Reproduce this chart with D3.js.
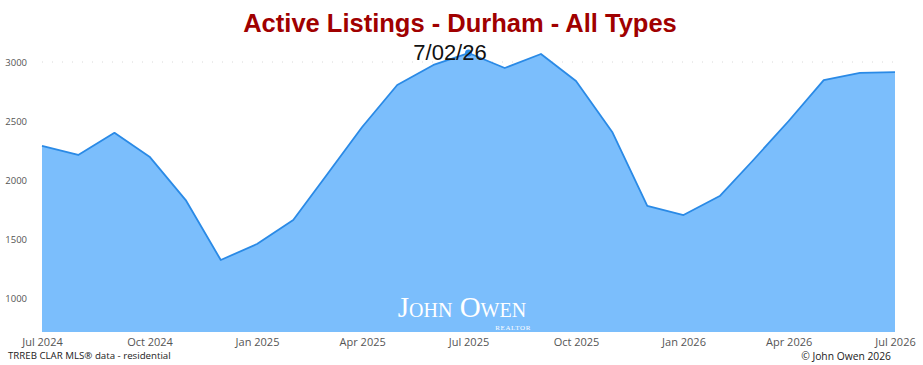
<!DOCTYPE html>
<html>
<head>
<meta charset="utf-8">
<script src="https://cdn.jsdelivr.net/npm/d3@7"></script>
<style>
  body { margin: 0; background: #fff; }
  svg { display: block; }
</style>
</head>
<body>
<div id="chart"></div>
<script>
// monthly active listings, Jul 2024 .. Jul 2026
const months = ["2024-07","2024-08","2024-09","2024-10","2024-11","2024-12",
  "2025-01","2025-02","2025-03","2025-04","2025-05","2025-06",
  "2025-07","2025-08","2025-09","2025-10","2025-11","2025-12",
  "2026-01","2026-02","2026-03","2026-04","2026-05","2026-06","2026-07"];
const listings = [2290, 2212, 2400, 2198, 1830, 1322,
  1458, 1661, 2034, 2449, 2805, 2975,
  3076, 2949, 3068, 2839, 2407, 1780,
  1703, 1864, 2161, 2500, 2847, 2907, 2915];
const yTicks = [1000, 1500, 2000, 2500, 3000];
const xTicks = ["2024-07","2024-10","2025-01","2025-04","2025-07","2025-10","2026-01","2026-04","2026-07"];
const highlight = "2025-07";

const width = 923, height = 365;
const parse = d3.timeParse("%Y-%m");
const data = months.map((m, i) => ({ date: parse(m), value: listings[i] }));

const svg = d3.select("#chart").append("svg")
  .attr("width", width)
  .attr("height", height);

const x = d3.scaleTime()
  .domain(d3.extent(data, d => d.date))
  .range([42, 895]);

const y = d3.scaleLinear()
  .domain([712, 3000])
  .range([332, 62]);

// faint dotted line at the top tick
svg.append("line")
  .attr("x1", 42).attr("x2", 895)
  .attr("y1", y(3000)).attr("y2", y(3000))
  .attr("stroke", "#d8d8d8")
  .attr("stroke-dasharray", "1,9");

// area + line
const area = d3.area()
  .x(d => x(d.date))
  .y0(y(712))
  .y1(d => y(d.value));

const line = d3.line()
  .x(d => x(d.date))
  .y(d => y(d.value));

svg.append("path")
  .datum(data)
  .attr("fill", "#7bbefc")
  .attr("d", area);

svg.append("path")
  .datum(data)
  .attr("fill", "none")
  .attr("stroke", "#2a8ae6")
  .attr("stroke-width", 1.8)
  .attr("stroke-linejoin", "round")
  .attr("d", line);

// watermark
const wm = svg.append("g").attr("fill", "#fff").attr("font-family", "Liberation Serif, DejaVu Serif, serif");
wm.append("text")
  .attr("x", 462).attr("y", 317)
  .attr("text-anchor", "middle")
  .attr("font-size", 29)
  .style("font-variant", "small-caps")
  .text("John Owen");
wm.append("text")
  .attr("x", 531).attr("y", 330)
  .attr("text-anchor", "end")
  .attr("font-size", 7)
  .attr("letter-spacing", 0.6)
  .text("REALTOR");

// y axis labels
svg.append("g")
  .attr("transform", "translate(27,0)")
  .call(d3.axisLeft(y).tickValues(yTicks).tickSize(0).tickPadding(0).tickFormat(d3.format("d")))
  .call(g => g.select(".domain").remove())
  .call(g => g.selectAll("text")
    .attr("fill", "#555")
    .attr("font-size", 9.5)
    .attr("font-family", "Open Sans, sans-serif"));

// x axis labels
const fmt = d3.timeFormat("%b %Y");
svg.append("g")
  .attr("transform", "translate(0,336)")
  .call(d3.axisBottom(x).tickValues(xTicks.map(parse)).tickSize(0).tickPadding(2).tickFormat(fmt))
  .call(g => g.select(".domain").remove())
  .call(g => g.selectAll("text")
    .attr("fill", "#555")
    .attr("font-size", 11)
    .attr("font-family", "Open Sans, sans-serif"));

// highlight dot
const hp = data.find(d => +d.date === +parse(highlight));
svg.append("circle")
  .attr("cx", x(hp.date)).attr("cy", y(hp.value))
  .attr("r", 3.5)
  .attr("fill", "#2a8ae6");

// titles
svg.append("text")
  .attr("x", 460).attr("y", 32)
  .attr("text-anchor", "middle")
  .attr("font-family", "Liberation Sans, Arial, sans-serif")
  .attr("font-weight", "bold")
  .attr("font-size", 25.5)
  .attr("fill", "#a00000")
  .text("Active Listings - Durham - All Types");

svg.append("text")
  .attr("x", 450).attr("y", 60)
  .attr("text-anchor", "middle")
  .attr("font-family", "Liberation Sans, Arial, sans-serif")
  .attr("font-size", 22)
  .attr("fill", "#111")
  .text("7/02/26");

// footers
svg.append("text")
  .attr("x", 8).attr("y", 359)
  .attr("font-family", "Open Sans, sans-serif")
  .attr("font-size", 9.7)
  .attr("fill", "#222")
  .text("TRREB CLAR MLS® data - residential");

svg.append("text")
  .attr("x", 891).attr("y", 360)
  .attr("text-anchor", "end")
  .attr("font-family", "Open Sans, sans-serif")
  .attr("font-size", 10.3)
  .attr("fill", "#222")
  .text("© John Owen 2026");
</script>
</body>
</html>
